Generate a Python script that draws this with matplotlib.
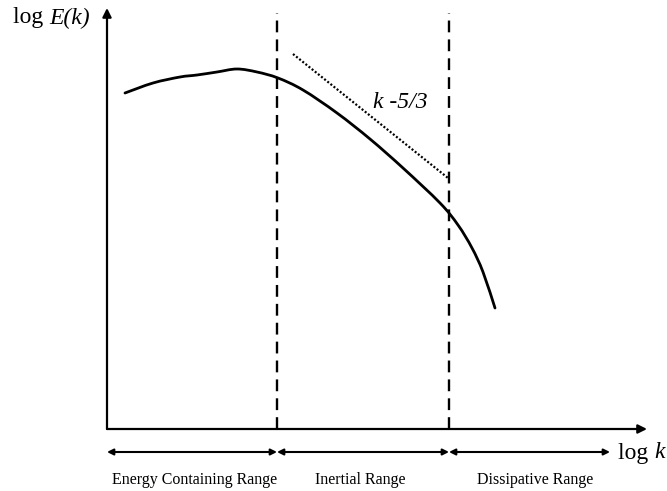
import numpy as np
import matplotlib
matplotlib.use('Agg')
import matplotlib.pyplot as plt
from matplotlib.path import Path
from matplotlib.patches import PathPatch

plt.rcParams['font.family'] = ['Liberation Serif', 'DejaVu Serif']

# schematic energy spectrum, log k vs log E(k) (arbitrary units)
log_k = [0.18, 0.46, 0.73, 0.90, 1.10, 1.30, 1.50, 1.71, 1.96, 2.30,
         2.63, 2.96, 3.33, 3.51, 3.65, 3.76, 3.88]
log_E = [3.36, 3.46, 3.52, 3.54, 3.57, 3.60, 3.57, 3.51, 3.39, 3.16,
         2.90, 2.61, 2.26, 2.04, 1.81, 1.57, 1.21]

# range boundaries along log k
bounds = [0.0, 1.70, 3.42, 5.03]
range_names = ['Energy Containing Range', 'Inertial Range', 'Dissipative Range']
range_centers = [0.88, 2.53, 4.28]

# -5/3 reference slope line
slope_k = [1.86, 3.41]
slope_E = [3.75, 2.51]


def smooth_path(xs, ys):
    # cubic bezier through the points (catmull-rom tangents)
    p = np.column_stack([xs, ys])
    verts = [p[0]]
    codes = [Path.MOVETO]
    for i in range(len(p) - 1):
        p0 = p[i - 1] if i > 0 else p[i]
        p3 = p[i + 2] if i + 2 < len(p) else p[i + 1]
        c1 = p[i] + (p[i + 1] - p0) / 6
        c2 = p[i + 1] - (p3 - p[i]) / 6
        verts += [c1, c2, p[i + 1]]
        codes += [Path.CURVE4] * 3
    return Path(verts, codes)


fig = plt.figure(figsize=(6.67, 4.91), dpi=100)
ax = fig.add_axes([0, 0, 1, 1])
ax.set_xlim(-1.07, 5.60)
ax.set_ylim(-0.62, 4.29)
ax.axis('off')

# axes with arrows
ax.annotate('', xy=(5.40, 0), xytext=(0, 0),
            arrowprops=dict(arrowstyle='-|>', lw=1.6, color='black',
                            mutation_scale=13, shrinkA=0, shrinkB=0))
ax.annotate('', xy=(0, 4.21), xytext=(0, 0),
            arrowprops=dict(arrowstyle='-|>', lw=1.6, color='black',
                            mutation_scale=13, shrinkA=0, shrinkB=0))

# spectrum curve
ax.add_patch(PathPatch(smooth_path(log_k, log_E), facecolor='none',
                       edgecolor='black', lw=2.0, capstyle='round'))

# range boundaries
for b in bounds[1:3]:
    ax.plot([b, b], [0, 4.16], color='black', lw=1.7, linestyle=(0, (5, 3)))

# slope line and label
ax.plot(slope_k, slope_E, color='black', lw=1.6, linestyle=(0, (0.9, 0.9)))
ax.text(2.93, 3.27, 'k -5/3', fontsize=17, fontstyle='italic',
        ha='center', va='center')

# range arrows and names
for i in range(3):
    ax.annotate('', xy=(bounds[i + 1], -0.23), xytext=(bounds[i], -0.23),
                arrowprops=dict(arrowstyle='<|-|>', lw=1.5, color='black',
                                mutation_scale=9, shrinkA=0, shrinkB=0))
    ax.text(range_centers[i], -0.51, range_names[i], fontsize=11.5,
            ha='center', va='center')

# axis labels
t1 = ax.text(-0.94, 4.11, 'log ', fontsize=17, ha='left', va='center')
ax.annotate('E(k)', xy=(1, 0.5), xycoords=t1, fontsize=17,
            fontstyle='italic', ha='left', va='center')
t2 = ax.text(5.11, -0.24, 'log ', fontsize=17, ha='left', va='center')
ax.annotate('k', xy=(1, 0.5), xycoords=t2, fontsize=17,
            fontstyle='italic', ha='left', va='center')

fig.savefig('out.png', dpi=100)
